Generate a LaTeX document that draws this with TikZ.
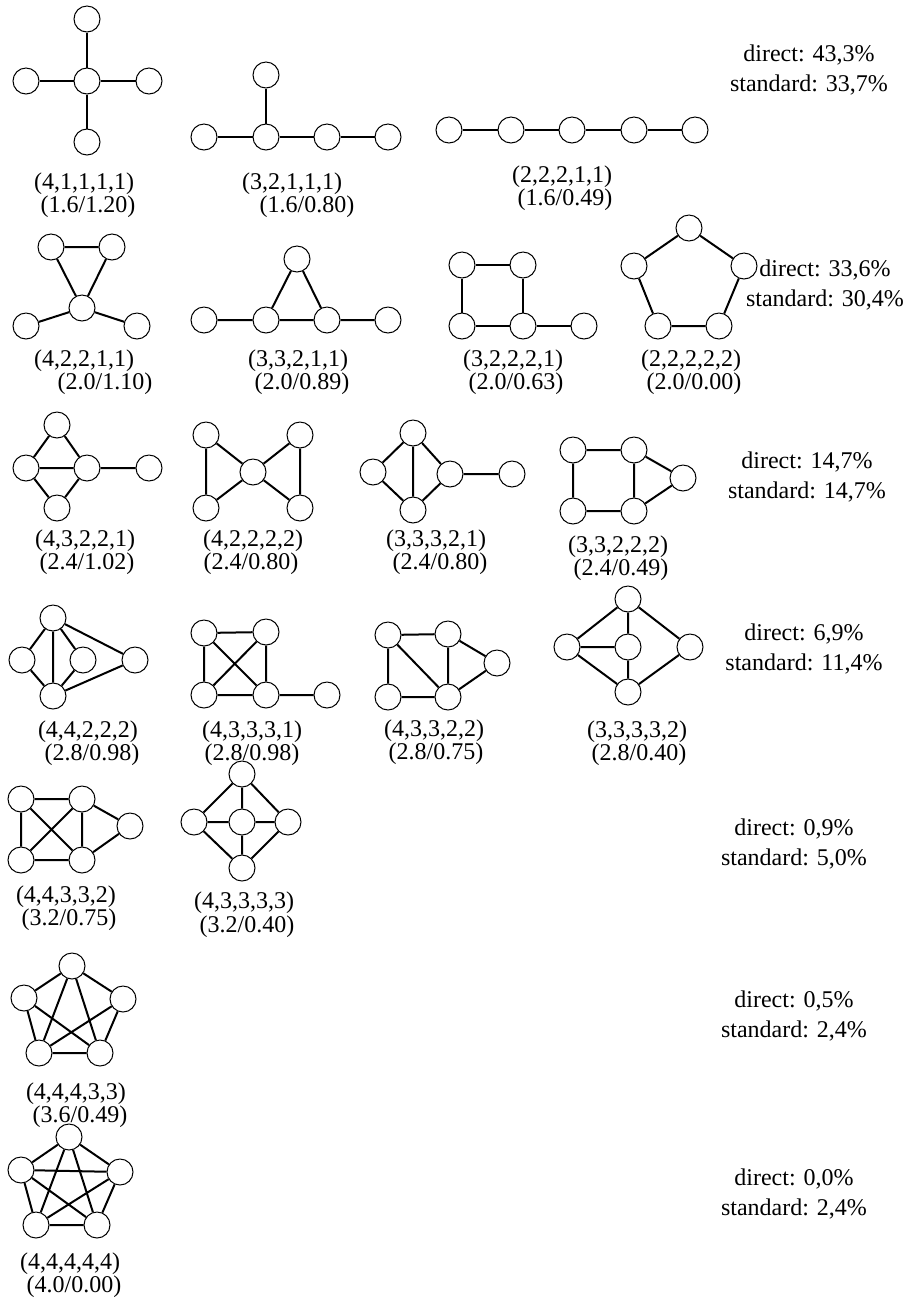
\documentclass[tikz,border=0pt]{standalone}
\usepackage{fontspec}
\setmainfont{Liberation Serif}
\begin{document}
\begin{tikzpicture}[x=0.5pt,y=-0.5pt,
  v/.style={circle,draw,line width=0.5pt,minimum size=13pt,inner sep=0pt},
  e/.style={line width=1pt},
  lab/.style={inner sep=0pt,font=\fontsize{12}{14.5}\selectfont},
  stat/.style={inner sep=0pt,align=center,font=\fontsize{12}{15}\selectfont}]
\useasboundingbox (0,0) rectangle (905,1303);
% (4,1,1,1,1)
\node[v] (a1) at (87,81) {};
\node[v] (a2) at (87,19) {};
\node[v] (a3) at (26,81) {};
\node[v] (a4) at (149,81) {};
\node[v] (a5) at (87,142) {};
\draw[e] (a1) -- (a2) (a1) -- (a3) (a1) -- (a4) (a1) -- (a5);
\node[lab] (adeg) at (84,184) {(4,1,1,1,1)};
\node[lab] (aval) at (88,207) {(1.6/1.20)};
% (3,2,1,1,1)
\node[v] (b1) at (204,137) {};
\node[v] (b2) at (266,137) {};
\node[v] (b3) at (327,137) {};
\node[v] (b4) at (388,137) {};
\node[v] (b5) at (266,75) {};
\draw[e] (b1) -- (b2) -- (b3) -- (b4) (b2) -- (b5);
\node[lab] (bdeg) at (292,184) {(3,2,1,1,1)};
\node[lab] (bval) at (307,207) {(1.6/0.80)};
% (2,2,2,1,1)
\node[v] (c1) at (449,130) {};
\node[v] (c2) at (511,130) {};
\node[v] (c3) at (572,130) {};
\node[v] (c4) at (634,130) {};
\node[v] (c5) at (695,130) {};
\draw[e] (c1) -- (c2) -- (c3) -- (c4) -- (c5);
\node[lab] (cdeg) at (562,177) {(2,2,2,1,1)};
\node[lab] (cval) at (565,200) {(1.6/0.49)};
\node[stat] (st1) at (809,70) {direct: 43,3\%\\standard: 33,7\%};
% (4,2,2,1,1)
\node[v] (d1) at (51,247) {};
\node[v] (d2) at (112,247) {};
\node[v] (d3) at (82,308) {};
\node[v] (d4) at (26,326) {};
\node[v] (d5) at (137,326) {};
\draw[e] (d1) -- (d2) -- (d3) -- (d1) (d3) -- (d4) (d3) -- (d5);
\node[lab] (ddeg) at (84,361) {(4,2,2,1,1)};
\node[lab] (dval) at (105,384) {(2.0/1.10)};
% (3,3,2,1,1)
\node[v] (e1) at (204,320) {};
\node[v] (e2) at (266,320) {};
\node[v] (e3) at (327,320) {};
\node[v] (e4) at (388,320) {};
\node[v] (e5) at (297,259) {};
\draw[e] (e1) -- (e2) -- (e3) -- (e4) (e2) -- (e5) -- (e3);
\node[lab] (edeg) at (298,361) {(3,3,2,1,1)};
\node[lab] (eval) at (302,384) {(2.0/0.89)};
% (3,2,2,2,1)
\node[v] (f1) at (462,265) {};
\node[v] (f2) at (523,265) {};
\node[v] (f3) at (462,326) {};
\node[v] (f4) at (523,326) {};
\node[v] (f5) at (584,326) {};
\draw[e] (f1) -- (f2) -- (f4) -- (f3) -- (f1) (f4) -- (f5);
\node[lab] (fdeg) at (513,361) {(3,2,2,2,1)};
\node[lab] (fval) at (516,384) {(2.0/0.63)};
% (2,2,2,2,2)
\node[v] (g1) at (689,228) {};
\node[v] (g2) at (744,266) {};
\node[v] (g3) at (719,326) {};
\node[v] (g4) at (658,326) {};
\node[v] (g5) at (634,266) {};
\draw[e] (g1) -- (g2) -- (g3) -- (g4) -- (g5) -- (g1);
\node[lab] (gdeg) at (691,361) {(2,2,2,2,2)};
\node[lab] (gval) at (694,384) {(2.0/0.00)};
\node[stat] (st2) at (825,285) {direct: 33,6\%\\standard: 30,4\%};
% (4,3,2,2,1)
\node[v] (h1) at (57,425) {};
\node[v] (h2) at (26,468) {};
\node[v] (h3) at (87,468) {};
\node[v] (h4) at (57,508) {};
\node[v] (h5) at (149,468) {};
\draw[e] (h1) -- (h2) -- (h4) -- (h3) -- (h1) (h2) -- (h3) -- (h5);
\node[lab] (hdeg) at (85,541) {(4,3,2,2,1)};
\node[lab] (hval) at (87,564) {(2.4/1.02)};
% (4,2,2,2,2)
\node[v] (i1) at (206,435) {};
\node[v] (i2) at (206,508) {};
\node[v] (i3) at (253,472) {};
\node[v] (i4) at (300,435) {};
\node[v] (i5) at (300,508) {};
\draw[e] (i1) -- (i2) -- (i3) -- (i1) (i3) -- (i4) -- (i5) -- (i3);
\node[lab] (ideg) at (253,541) {(4,2,2,2,2)};
\node[lab] (ival) at (251,564) {(2.4/0.80)};
% (3,3,3,2,1)
\node[v] (j1) at (413,433) {};
\node[v] (j2) at (373,472) {};
\node[v] (j3) at (413,510) {};
\node[v] (j4) at (450,474) {};
\node[v] (j5) at (512,474) {};
\draw[e] (j1) -- (j2) -- (j3) -- (j4) -- (j1) -- (j3) (j4) -- (j5);
\node[lab] (jdeg) at (436,541) {(3,3,3,2,1)};
\node[lab] (jval) at (440,564) {(2.4/0.80)};
% (3,3,2,2,2)
\node[v] (k1) at (573,450) {};
\node[v] (k2) at (634,450) {};
\node[v] (k3) at (573,511) {};
\node[v] (k4) at (634,511) {};
\node[v] (k5) at (683,478) {};
\draw[e] (k1) -- (k2) -- (k4) -- (k3) -- (k1) (k2) -- (k5) -- (k4);
\node[lab] (kdeg) at (618,547) {(3,3,2,2,2)};
\node[lab] (kval) at (621,570) {(2.4/0.49)};
\node[stat] (st3) at (807,477) {direct: 14,7\%\\standard: 14,7\%};
% (4,4,2,2,2)
\node[v] (l1) at (53,618) {};
\node[v] (l2) at (22,660) {};
\node[v] (l3) at (83,660) {};
\node[v] (l4) at (53,696) {};
\node[v] (l5) at (135,660) {};
\draw[e] (l1) -- (l2) -- (l4) -- (l3) -- (l1) -- (l5) -- (l4) -- (l1);
\node[lab] (ldeg) at (88,732) {(4,4,2,2,2)};
\node[lab] (lval) at (92,755) {(2.8/0.98)};
% (4,3,3,3,1)
\node[v] (m1) at (204,633) {};
\node[v] (m2) at (266,632) {};
\node[v] (m3) at (204,695) {};
\node[v] (m4) at (266,695) {};
\node[v] (m5) at (327,695) {};
\draw[e] (m1) -- (m2) -- (m4) -- (m3) -- (m1) -- (m4) -- (m5) (m2) -- (m3);
\node[lab] (mdeg) at (252,732) {(4,3,3,3,1)};
\node[lab] (mval) at (252,755) {(2.8/0.98)};
% (4,3,3,2,2)
\node[v] (n1) at (388,635) {};
\node[v] (n2) at (448,634) {};
\node[v] (n3) at (388,697) {};
\node[v] (n4) at (448,697) {};
\node[v] (n5) at (497,663) {};
\draw[e] (n1) -- (n2) -- (n4) -- (n3) -- (n1) -- (n4) -- (n5) -- (n2);
\node[lab] (ndeg) at (434,731) {(4,3,3,2,2)};
\node[lab] (nval) at (436,754) {(2.8/0.75)};
% (3,3,3,3,2)
\node[v] (o1) at (628,599) {};
\node[v] (o2) at (567,647) {};
\node[v] (o3) at (628,647) {};
\node[v] (o4) at (690,647) {};
\node[v] (o5) at (628,692) {};
\draw[e] (o2) -- (o1) -- (o4) -- (o5) -- (o2) -- (o3) (o1) -- (o3) -- (o5);
\node[lab] (odeg) at (637,732) {(3,3,3,3,2)};
\node[lab] (oval) at (639,755) {(2.8/0.40)};
\node[stat] (st4) at (804,649) {direct: 6,9\%\\standard: 11,4\%};
% (4,4,3,3,2)
\node[v] (p1) at (21,799) {};
\node[v] (p2) at (82,799) {};
\node[v] (p3) at (21,860) {};
\node[v] (p4) at (82,860) {};
\node[v] (p5) at (130,826) {};
\draw[e] (p1) -- (p2) -- (p4) -- (p3) -- (p1) -- (p4) -- (p5) -- (p2) -- (p3);
\node[lab] (pdeg) at (66,897) {(4,4,3,3,2)};
\node[lab] (pval) at (69,920) {(3.2/0.75)};
% (4,3,3,3,3)
\node[v] (q1) at (242,774) {};
\node[v] (q2) at (194,822) {};
\node[v] (q3) at (242,822) {};
\node[v] (q4) at (288,822) {};
\node[v] (q5) at (242,868) {};
\draw[e] (q1) -- (q2) -- (q5) -- (q4) -- (q1) -- (q3) -- (q5) (q2) -- (q3) -- (q4);
\node[lab] (qdeg) at (244,903) {(4,3,3,3,3)};
\node[lab] (qval) at (247,927) {(3.2/0.40)};
\node[stat] (st5) at (794,844) {direct: 0,9\%\\standard: 5,0\%};
% (4,4,4,3,3)
\node[v] (r1) at (72,966) {};
\node[v] (r2) at (24,998) {};
\node[v] (r3) at (123,999) {};
\node[v] (r4) at (39,1053) {};
\node[v] (r5) at (100,1053) {};
\draw[e] (r1) -- (r2) -- (r4) -- (r5) -- (r3) -- (r1) -- (r4) -- (r3) (r1) -- (r5) -- (r2);
\node[lab] (rdeg) at (76,1094) {(4,4,4,3,3)};
\node[lab] (rval) at (80,1117) {(3.6/0.49)};
\node[stat] (st6) at (794,1016) {direct: 0,5\%\\standard: 2,4\%};
% (4,4,4,4,4)
\node[v] (s1) at (69,1137) {};
\node[v] (s2) at (21,1170) {};
\node[v] (s3) at (120,1172) {};
\node[v] (s4) at (36,1225) {};
\node[v] (s5) at (97,1225) {};
\draw[e] (s1) -- (s2) -- (s4) -- (s5) -- (s3) -- (s1) -- (s4) -- (s3) -- (s2) -- (s5) -- (s1);
\node[lab] (sdeg) at (70,1264) {(4,4,4,4,4)};
\node[lab] (sval) at (74,1287) {(4.0/0.00)};
\node[stat] (st7) at (794,1194) {direct: 0,0\%\\standard: 2,4\%};
\end{tikzpicture}
\end{document}
